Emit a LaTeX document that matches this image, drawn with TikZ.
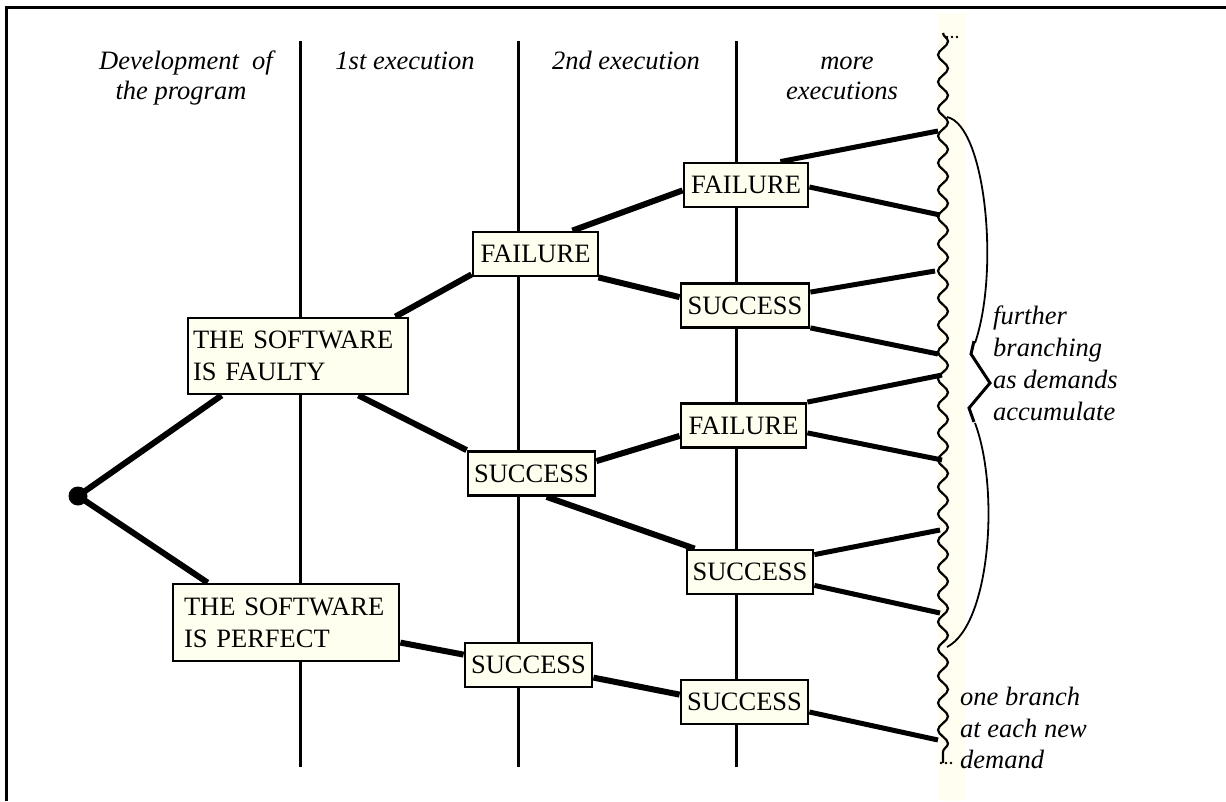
\documentclass[tikz,border=0pt]{standalone}
\usepackage{fontspec}
\setmainfont{Liberation Serif}
\usetikzlibrary{calc,decorations.pathmorphing,backgrounds}
\definecolor{boxfill}{RGB}{255,255,240}
\definecolor{bandfill}{RGB}{255,254,240}
\tikzset{
  treebox/.style={draw, line width=2.8pt, fill=boxfill, inner sep=0pt, minimum height=44pt, font=\fontsize{26.5pt}{32pt}\selectfont, align=center},
  twoline/.style={draw, line width=2.8pt, fill=boxfill, inner ysep=0pt, font=\fontsize{26.5pt}{32pt}\selectfont, align=left},
  branch/.style={line width=6pt},
  leaf/.style={line width=5pt},
  colline/.style={line width=3pt},
  note/.style={font=\fontsize{26.5pt}{32pt}\selectfont\itshape, inner sep=0pt},
}
\begin{document}
\begin{tikzpicture}[x=1pt,y=-1pt]
\useasboundingbox (0,0) rectangle (1226,801);

% headers
\node[note, anchor=base] (h1a) at (186,69) {Development\ \ of};
\node[note, anchor=base] (h1b) at (181,99) {the program};
\node[note, anchor=base] (h2) at (405,69) {1st execution};
\node[note, anchor=base] (h3) at (626,69) {2nd execution};
\node[note, anchor=base] (h4a) at (847,69) {more};
\node[note, anchor=base] (h4b) at (842,99) {executions};

% boxes
\node[twoline, text width=210pt, inner xsep=5pt, minimum height=76pt] (faulty) at (298,356) {THE SOFTWARE\\IS FAULTY};
\node[twoline, text width=204pt, inner xsep=11pt, minimum height=77pt] (perfect) at (286,622.5) {THE SOFTWARE\\IS PERFECT};
\node[treebox, minimum width=125pt] (fail1) at (535.5,254) {FAILURE};
\node[treebox, minimum width=127pt] (succ1a) at (531.5,473.5) {SUCCESS};
\node[treebox, minimum width=127pt] (succ1b) at (528.5,665) {SUCCESS};
\node[treebox, minimum width=124pt] (fail2a) at (746,185) {FAILURE};
\node[treebox, minimum width=128pt] (succ2a) at (745,305.5) {SUCCESS};
\node[treebox, minimum width=125pt] (fail2b) at (743.5,425.5) {FAILURE};
\node[treebox, minimum width=126pt] (succ2b) at (750,572) {SUCCESS};
\node[treebox, minimum width=127pt] (succ2c) at (744.5,702) {SUCCESS};

\node[circle, fill=black, inner sep=0pt, minimum size=19pt] (root) at (78,496) {};

% free ends on the wavy line
\coordinate (w1) at (938,131);
\coordinate (w2) at (940,215);
\coordinate (w3) at (935,271);
\coordinate (w4) at (938,354);
\coordinate (w5) at (942,375);
\coordinate (w6) at (942,460);
\coordinate (w7) at (940,530);
\coordinate (w8) at (940,613);
\coordinate (w9) at (938,740);

% notes
\node[note, anchor=base west] (n1) at (993,324) {further};
\node[note, anchor=base west] (n2) at (993,356) {branching};
\node[note, anchor=base west] (n3) at (993,388) {as demands};
\node[note, anchor=base west] (n4) at (993,420) {accumulate};
\node[note, anchor=base west] (m1) at (960,705) {one branch};
\node[note, anchor=base west] (m2) at (960,737) {at each new};
\node[note, anchor=base west] (m3) at (960,768) {demand};

\begin{scope}[on background layer]
  \fill[bandfill] (938,14) rectangle (965,801);
  \draw[line width=3pt] (6,801) -- (6,7) -- (1226,7);
  \draw[colline] (300,41) -- (300,767);
  \draw[colline] (518,41) -- (518,767);
  \draw[colline] (736,41) -- (736,767);
  % tree
  \draw[branch] (root.center) -- ($(faulty.south west)+(35,0)$);
  \draw[branch] (root.center) -- ($(perfect.north west)+(36,0)$);
  \draw[branch] ($(faulty.north east)+(-14,0)$) -- ($(fail1.south west)+(0,-3)$);
  \draw[branch] ($(faulty.south east)+(-51,0)$) -- (succ1a.north west);
  \draw[branch] ($(fail1.north east)+(-27,0)$) -- ($(fail2a.south west)+(0,-18)$);
  \draw[branch] ($(fail1.south east)+(-1,0)$) -- ($(succ2a.north west)+(0,15)$);
  \draw[branch] ($(succ1a.north east)+(0,11)$) -- ($(fail2b.south west)+(0,-13)$);
  \draw[branch] ($(succ1a.south west)+(80,0)$) -- ($(succ2b.north west)+(9,0)$);
  \draw[branch] ($(perfect.north east)+(0,60)$) -- ($(succ1b.north west)+(0,13)$);
  \draw[branch] ($(succ1b.north east)+(0,36)$) -- ($(succ2c.north west)+(0,16)$);
  % leaves
  \draw[leaf] ($(fail2a.north east)+(-29,0)$) -- (w1);
  \draw[leaf] ($(fail2a.east)+(0,2)$) -- (w2);
  \draw[leaf] ($(succ2a.north east)+(0,10)$) -- (w3);
  \draw[leaf] ($(succ2a.south east)+(0,-1)$) -- (w4);
  \draw[leaf] (fail2b.north east) -- (w5);
  \draw[leaf] ($(fail2b.south east)+(0,-16)$) -- (w6);
  \draw[leaf] ($(succ2b.north east)+(0,6)$) -- (w7);
  \draw[leaf] ($(succ2b.south east)+(0,-10)$) -- (w8);
  \draw[leaf] ($(succ2c.east)+(0,10)$) -- (w9);
\end{scope}

% wavy time line
\draw[line width=2.2pt, decorate, decoration={snake, segment length=27pt, amplitude=5pt}] (943,33) -- (943,763);
\foreach \xx in {947,952,957} \fill (\xx,37) circle (1.3pt);
\foreach \xx in {941,946,951} \fill (\xx,763) circle (1.3pt);

% brace
\draw[line width=1.8pt] (947,117) .. controls (985,125) and (1000,270) .. (975,343);
\draw[line width=3pt, line join=miter] (974,341) -- (971,354) -- (990,383) -- (969,408) -- (974,422);
\draw[line width=1.8pt] (975,423) .. controls (1000,490) and (990,625) .. (947,647);
\end{tikzpicture}
\end{document}
